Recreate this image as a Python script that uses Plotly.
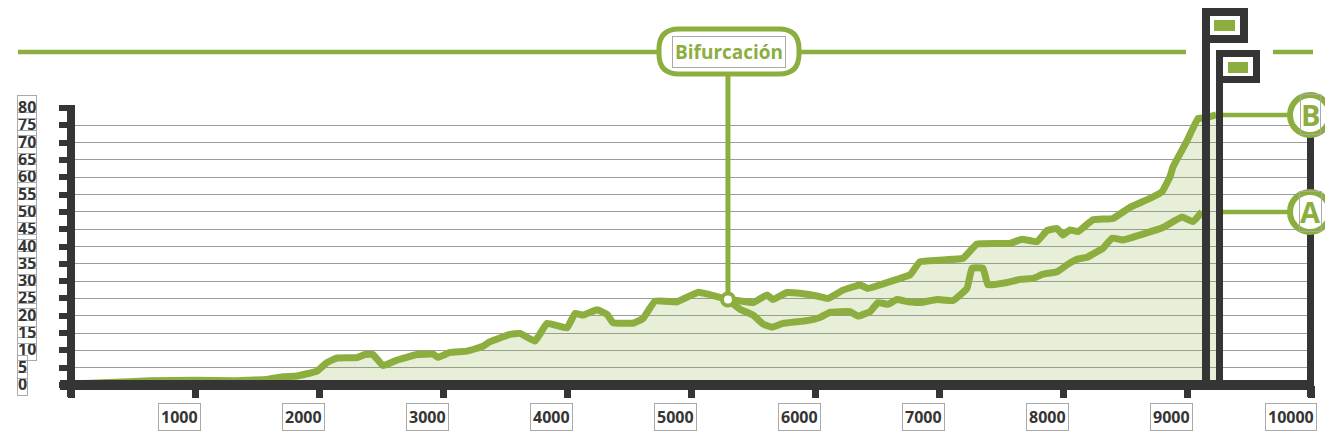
import plotly.graph_objects as go

# tramo comun hasta la bifurcacion
trunk_x = [0, 300, 640, 1000, 1306, 1444, 1581, 1710, 1823, 1984, 2065, 2145, 2306, 2371, 2435,
           2516, 2637, 2790, 2919, 2960, 3056, 3194, 3323, 3379, 3540, 3621, 3742, 3839, 4000,
           4065, 4129, 4242, 4323, 4371, 4540, 4613, 4710, 4887, 4935, 5060, 5129, 5298]
trunk_y = [0.3, 0.7, 1.2, 1.4, 1.2, 1.4, 1.6, 2.4, 2.6, 4.0, 6.5, 7.8, 7.9, 8.8, 8.8,
           5.6, 7.3, 8.8, 8.9, 8.0, 9.4, 9.8, 11.2, 12.5, 14.6, 14.9, 12.7, 17.8, 16.5,
           20.7, 20.2, 21.7, 20.4, 18.0, 17.9, 19.2, 24.2, 24.0, 24.8, 26.8, 26.3, 24.7]

# rama B (superior)
b_x = [5395, 5500, 5613, 5661, 5774, 5879, 6016, 6105, 6226, 6363, 6427, 6524, 6661, 6766, 6847,
       7032, 7194, 7306, 7573, 7669, 7790, 7871, 7952, 8000, 8056, 8121, 8242, 8403, 8540, 8702,
       8798, 8863, 8887, 9000, 9089, 9130, 9235]
b_y = [24.3, 23.8, 26.0, 24.7, 26.7, 26.5, 25.7, 25.0, 27.4, 28.9, 27.9, 28.9, 30.5, 31.8, 35.6,
       36.1, 36.6, 40.7, 40.9, 42.1, 41.4, 44.6, 45.2, 43.3, 44.8, 44.3, 47.7, 48.1, 51.3, 53.9,
       55.8, 60.2, 63.0, 70.5, 77.0, 77.0, 78.0]

# rama A (inferior)
a_x = [5395, 5500, 5581, 5653, 5742, 5935, 6040, 6121, 6282, 6347, 6444, 6508, 6589, 6661, 6742,
       6847, 6984, 7113, 7226, 7266, 7355, 7395, 7548, 7653, 7758, 7839, 7952, 8032, 8113, 8194,
       8274, 8323, 8395, 8484, 8645, 8806, 8960, 9048, 9121]
a_y = [21.9, 20.2, 17.6, 16.7, 17.8, 18.6, 19.5, 21.0, 21.2, 19.9, 21.2, 23.8, 23.3, 24.7, 24.1,
       23.8, 24.7, 24.4, 27.9, 33.7, 33.7, 28.9, 29.6, 30.5, 30.8, 32.0, 32.7, 34.7, 36.3, 36.9,
       38.5, 39.5, 42.4, 41.9, 43.6, 45.5, 48.5, 47.2, 50.0]

x_ticks = [0, 1000, 2000, 3000, 4000, 5000, 6000, 7000, 8000, 9000, 10000]
x_labels = ["", "1000", "2000", "3000", "4000", "5000", "6000", "7000", "8000", "9000", "10000"]
y_ticks = [0, 5, 10, 15, 20, 25, 30, 35, 40, 45, 50, 55, 60, 65, 70, 75, 80]
y_labels = ["0", "5", "10", "15", "20", "25", "30", "35", "40", "45", "50", "55", "60", "65", "70", "75", "80"]
bif_label = "Bifurcación"

GREEN = "#8cae3f"
DARK = "#353535"
GRID = "#9b9b9b"
FILL = "rgba(140,174,63,0.2)"
BOX = "#aaaaaa"
FONT = "Open Sans"

# la pagina deja 8px de margen en el body, se descuentan aqui
PAGE = 8
W, H = 1333 - PAGE, 443 - PAGE
PW, PH = 1240, 277
ML, MT = 71 - PAGE, 108 - PAGE
MR, MB = W - ML - PW, H - MT - PH
XMAX, YMAX = 10000, 80
X0, Y0 = 71, 385  # esquina del area de datos en pixeles de la imagen


def px(xp):
    return (xp - X0) / PW


def py(yp):
    return (Y0 - yp) / PH


def rounded(l, t, r, b, rad):
    pts = [("M", l + rad, t), ("L", r - rad, t), ("Q", r, t, r, t + rad), ("L", r, b - rad),
           ("Q", r, b, r - rad, b), ("L", l + rad, b), ("Q", l, b, l, b - rad), ("L", l, t + rad),
           ("Q", l, t, l + rad, t)]
    s = ""
    for p in pts:
        if p[0] == "Q":
            s += "Q%f,%f %f,%f " % (px(p[1]), py(p[2]), px(p[3]), py(p[4]))
        else:
            s += "%s%f,%f " % (p[0], px(p[1]), py(p[2]))
    return s + "Z"


bx, by = trunk_x[-1], trunk_y[-1]

fig = go.Figure()
fig.add_trace(go.Scatter(x=trunk_x + b_x, y=trunk_y + b_y, mode="lines", fill="tozeroy",
                         fillcolor=FILL, line=dict(color=GREEN, width=7, shape="spline", smoothing=0.3),
                         hoverinfo="skip"))
fig.add_trace(go.Scatter(x=[bx] + a_x, y=[by] + a_y, mode="lines",
                         line=dict(color=GREEN, width=7, shape="spline", smoothing=0.3), hoverinfo="skip"))
fig.add_trace(go.Scatter(x=[bx], y=[by], mode="markers", cliponaxis=False,
                         marker=dict(size=12, color="white", line=dict(color=GREEN, width=4))))

shapes = []


def rect(x0, y0, x1, y1, fill, line=None, lw=0):
    shapes.append(dict(type="rect", xref="paper", yref="paper", x0=px(x0), x1=px(x1),
                       y0=py(y0), y1=py(y1), fillcolor=fill, layer="above",
                       line=dict(color=line or fill, width=lw)))


def hline(x0, x1, yp, w=4.5):
    shapes.append(dict(type="line", xref="paper", yref="paper", x0=px(x0), x1=px(x1),
                       y0=yp, y1=yp, layer="above", line=dict(color=GREEN, width=w)))


# ejes
rect(67, 105, 75, 397, DARK)
rect(60, 380, 1314, 390, DARK)

# linea superior y caja de bifurcacion
hline(18, 657, py(52))
hline(800, 1186, py(52))
hline(1273, 1313, py(52))
shapes.append(dict(type="line", xref="paper", yref="paper", x0=bx / XMAX, x1=bx / XMAX,
                   y0=py(74), y1=by / YMAX + 7 / PH, layer="above",
                   line=dict(color=GREEN, width=5)))
shapes.append(dict(type="path", xref="paper", yref="paper", path=rounded(659, 29, 799, 74, 20),
                   fillcolor="white", layer="above", line=dict(color=GREEN, width=5)))

# banderas
rect(1206, 12, 1244, 39, "white", DARK, 8)
rect(1214, 20, 1235, 31, GREEN)
rect(1202, 8, 1210, 390, DARK)
rect(1219.5, 53.5, 1256.5, 79.5, "white", DARK, 7)
rect(1228, 62, 1248, 73, GREEN)
rect(1216, 50, 1223, 390, DARK)

# eje derecho con marcadores A / B
end_b, end_a = b_y[-1], a_y[-1]
rect(1307, Y0 - end_b / YMAX * PH, 1314, 397, DARK)
for v in (end_b, end_a):
    hline(1223, 1290, v / YMAX)
    shapes.append(dict(type="circle", xref="paper", yref="paper", x0=px(1290), x1=px(1330),
                       y0=v / YMAX - 20 / PH, y1=v / YMAX + 20 / PH, fillcolor="white",
                       layer="above", line=dict(color=GREEN, width=6)))

annotations = []
for name, v in (("B", end_b), ("A", end_a)):
    annotations.append(dict(xref="paper", yref="paper", x=px(1310), y=v / YMAX,
                            xanchor="center", yanchor="middle", text="<b>%s</b>" % name,
                            showarrow=False, font=dict(family=FONT, size=29, color=GREEN),
                            bordercolor=BOX, borderwidth=1, borderpad=0))

annotations.append(dict(xref="paper", yref="paper", x=px(729), y=py(52), xanchor="center",
                        yanchor="middle", text="<b>%s</b>" % bif_label,
                        showarrow=False, font=dict(family=FONT, size=19, color=GREEN),
                        bordercolor=BOX, borderwidth=1, borderpad=2))

for v, t in zip(y_ticks, y_labels):
    annotations.append(dict(xref="paper", yref="y", x=px(17), y=v, yshift=1, xanchor="left",
                            yanchor="middle", text="<b>%s</b>" % t, showarrow=False,
                            font=dict(family=FONT, size=16, color=DARK),
                            bordercolor=BOX, borderwidth=1, borderpad=0))

for v, t in zip(x_ticks, x_labels):
    if t:
        annotations.append(dict(xref="x", yref="paper", x=v, y=py(417), xanchor="right", xshift=6,
                                yanchor="middle", text="<b>%s</b>" % t, showarrow=False,
                                font=dict(family=FONT, size=16, color=DARK),
                                bordercolor=BOX, borderwidth=1, borderpad=2))

fig.update_layout(
    width=W, height=H,
    margin=dict(l=ML, r=MR, t=MT, b=MB),
    paper_bgcolor="white", plot_bgcolor="rgba(0,0,0,0)",
    showlegend=False,
    shapes=shapes, annotations=annotations,
    xaxis=dict(range=[0, XMAX], showgrid=False, zeroline=False, showline=False,
               tickvals=x_ticks, showticklabels=False, ticks="outside",
               ticklen=12, tickwidth=7, tickcolor=DARK, fixedrange=True),
    yaxis=dict(range=[0, YMAX], showgrid=True, gridcolor=GRID, gridwidth=1.3, zeroline=False,
               showline=False, tickvals=y_ticks, showticklabels=False, ticks="outside",
               ticklen=11, tickwidth=6, tickcolor=DARK, fixedrange=True),
)

fig.write_html("out.html")
